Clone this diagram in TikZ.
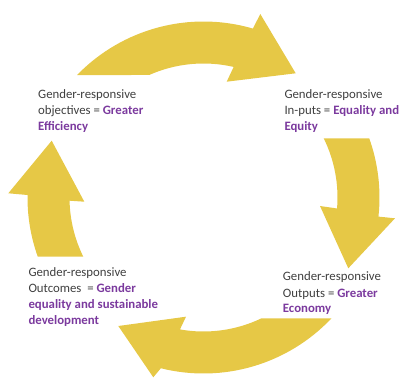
\documentclass[tikz,border=0pt]{standalone}
\usepackage{fontspec}
\setmainfont{Carlito}
\usetikzlibrary{calc}
\definecolor{arrowgold}{HTML}{E6C846}
\definecolor{labelgrey}{HTML}{3F3F3F}
\definecolor{accentpurple}{HTML}{7B3A9E}
\newcommand{\hl}[1]{\textbf{\color{accentpurple}#1}}
\begin{document}
\begin{tikzpicture}[x=1pt,y=1pt,
  cyclearrow/.style={fill=arrowgold,draw=none},
  steplabel/.style={anchor=base west,inner sep=0pt,align=left,text=labelgrey,
    font=\fontsize{12.8}{16}\selectfont}]
\useasboundingbox (0,0) rectangle (402,378);
\coordinate (C) at (203.5,180.5);
% four curved arrows running clockwise round the centre
\path[cyclearrow] ($(C)+(135.9:176)$) arc[start angle=135.9,end angle=73.7,radius=176]
  -- (260.3,364) -- (295.7,304.7) -- (226.7,296.3)
  -- ($(C)+(77:134)$) arc[start angle=77,end angle=113.9,radius=134] -- cycle;
\path[cyclearrow] ($(C)+(19.66:176)$) arc[start angle=19.66,end angle=-6.23,radius=176]
  -- (395,159.7) -- (348.3,109.7) -- (320,172)
  -- ($(C)+(-4.7:134)$) arc[start angle=-4.7,end angle=26.22,radius=134] -- cycle;
\path[cyclearrow] ($(C)+(-43.34:176)$) arc[start angle=-43.34,end angle=-104.02,radius=176]
  -- (153.3,0.7) -- (118.3,52) -- (186,61.3)
  -- ($(C)+(-100.11:134)$) arc[start angle=-100.11,end angle=-64.4,radius=134] -- cycle;
\path[cyclearrow] ($(C)+(199.66:176)$) arc[start angle=199.66,end angle=179.19,radius=176]
  -- (8.3,184.7) -- (51.7,237.3) -- (84.3,176.3)
  -- ($(C)+(181.37:134)$) arc[start angle=181.37,end angle=206.22,radius=134] -- cycle;
% stage labels, placed by the baseline of their last line
\node[steplabel] (objectives) at (38,247.5)
  {Gender-responsive\\objectives = \hl{Greater}\\\hl{Efficiency}};
\node[steplabel] (inputs) at (284.3,247.5)
  {Gender-responsive\\In-puts = \hl{Equality and}\\\hl{Equity}};
\node[steplabel] (outputs) at (282.7,65)
  {Gender-responsive\\Outputs = \hl{Greater}\\\hl{Economy}};
\node[steplabel] (outcomes) at (28.3,53)
  {Gender-responsive\\Outcomes~ = \hl{Gender}\\\hl{equality and sustainable}\\\hl{development}};
\end{tikzpicture}
\end{document}
